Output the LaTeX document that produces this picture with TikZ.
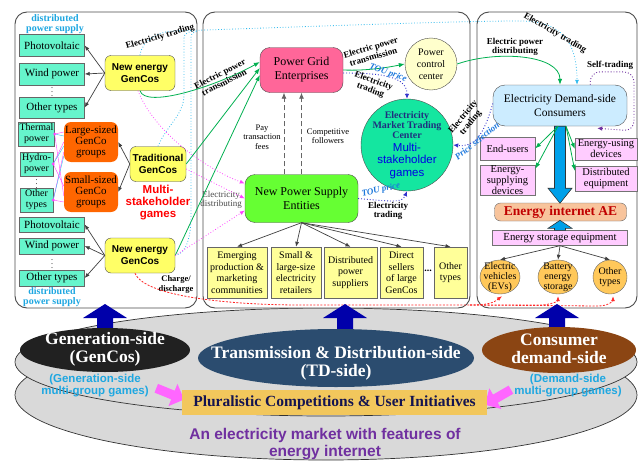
\documentclass[tikz,border=0pt]{standalone}
\usepackage{fontspec}
\setmainfont{Liberation Serif}
\newfontfamily\arialf{Liberation Sans}
\usetikzlibrary{arrows.meta,calc,shapes.geometric,shapes.arrows}

\definecolor{mintc}{RGB}{102,245,204}
\definecolor{genyel}{RGB}{255,255,102}
\definecolor{orgc}{RGB}{255,102,0}
\definecolor{gridpink}{RGB}{255,102,153}
\definecolor{npsgreen}{RGB}{102,255,51}
\definecolor{boxyel}{RGB}{255,255,153}
\definecolor{mktgreen}{RGB}{20,230,160}
\definecolor{pccyel}{RGB}{255,255,204}
\definecolor{consblue}{RGB}{204,236,255}
\definecolor{lilac}{RGB}{255,204,255}
\definecolor{aesalmon}{RGB}{248,196,156}
\definecolor{aered}{RGB}{192,0,0}
\definecolor{ovalorg}{RGB}{255,200,90}
\definecolor{flowgreen}{RGB}{0,176,80}
\definecolor{tradecyan}{RGB}{51,187,238}
\definecolor{distmag}{RGB}{255,68,255}
\definecolor{toublue}{RGB}{51,51,204}
\definecolor{pricecyan}{RGB}{30,120,220}
\definecolor{selfpurple}{RGB}{112,48,160}
\definecolor{chargered}{RGB}{255,40,40}
\definecolor{fatblue}{RGB}{0,160,233}
\definecolor{navyup}{RGB}{0,0,170}
\definecolor{diskgray}{RGB}{217,217,217}
\definecolor{tdblue}{RGB}{43,76,111}
\definecolor{brownc}{RGB}{139,69,19}
\definecolor{goldc}{RGB}{242,199,92}
\definecolor{gamecyan}{RGB}{30,167,225}
\definecolor{mktnavy}{RGB}{31,47,127}
\definecolor{pcitext}{RGB}{20,20,80}
\definecolor{pinkc}{RGB}{255,102,255}

\begin{document}
\begin{tikzpicture}[x=1pt,y=-1pt,
  panel/.style={draw=black!70,line width=0.9pt,rounded corners=12pt,fill=white},
  disk/.style={draw=black!80,line width=0.7pt,fill=diskgray},
  srcbox/.style={draw=black!60,fill=mintc,inner sep=1pt,align=center,font=\fontsize{11}{12}\selectfont},
  unitbox/.style={srcbox,minimum width=33,minimum height=24,font=\fontsize{10}{11}\selectfont},
  genco/.style={draw=black!70,fill=genyel,rounded corners=6pt,align=center,minimum width=70,minimum height=35,inner sep=1pt,font=\arialf\bfseries\fontsize{10}{12}\selectfont},
  group/.style={fill=orgc,rounded corners=7pt,align=center,minimum width=54,minimum height=40,inner sep=1pt,font=\fontsize{11}{11}\selectfont},
  seller/.style={draw=black!60,fill=boxyel,align=center,minimum height=51,inner sep=1pt,font=\fontsize{10}{11.5}\selectfont},
  demandbox/.style={draw=black!55,fill=lilac,align=center,inner sep=0pt,font=\fontsize{10.5}{11}\selectfont},
  storeoval/.style={ellipse,draw=black!60,fill=ovalorg,align=center,inner sep=-5pt,minimum height=34,font=\fontsize{10}{10}\selectfont},
  vdot/.style={inner sep=0pt,font=\fontsize{8}{8}\selectfont},
  lab/.style={align=center,inner sep=0pt,font=\bfseries\fontsize{9}{9.5}\selectfont},
  tou/.style={inner sep=0pt,text=pricecyan,font=\bfseries\itshape\fontsize{9}{10}\selectfont},
  note/.style={align=center,inner sep=0pt,font=\fontsize{8.5}{9.5}\selectfont},
  dps/.style={align=center,inner sep=0pt,text=gamecyan,font=\bfseries\fontsize{10}{10}\selectfont},
  tree/.style={draw=black!75,line width=0.7pt,-{Latex[length=5pt,width=4pt]}},
  flow/.style={draw=flowgreen,line width=0.8pt,-{Latex[length=6pt,width=4.5pt]}},
  trade/.style={draw=tradecyan,line width=0.8pt,dotted},
  distr/.style={draw=distmag,line width=0.8pt,dotted,-{Latex[length=5pt,width=4pt]}},
  tousig/.style={draw=toublue,line width=0.9pt,dotted,-{Latex[length=5pt,width=4.5pt]}},
  charge/.style={draw=chargered,line width=0.8pt,dash pattern=on 2pt off 1.5pt},
  follow/.style={draw=black!60,line width=0.8pt,dash pattern=on 5pt off 3pt,-{Latex[length=6pt,width=5pt]}},
  fatarrow/.style={draw=black!80,line width=0.6pt,fill=fatblue},
  sidetext/.style={align=center,inner sep=0pt,text=white,font=\bfseries\fontsize{17.5}{18}\selectfont},
  games/.style={align=center,inner sep=0pt,text=gamecyan,font=\arialf\bfseries\fontsize{11.5}{12}\selectfont},
  pinkarrow/.style={single arrow,fill=pinkc,minimum height=30,minimum width=24,inner sep=3pt,single arrow head extend=5pt}
]
  \useasboundingbox (0,0) rectangle (640,463);

  % platform under the three sides
  \draw[disk] (326,395) ellipse (311 and 65);
  \draw[disk] (326,362) ellipse (311 and 54);

  % three panels
  \draw[panel] (15,12) rectangle (197,308);
  \draw[panel] (203,12) rectangle (470,308);
  \draw[panel] (477,12) rectangle (637,308);

  % generation side
  \node[dps] (dpsTop) at (55,24) {distributed\\power supply};
  \node[srcbox,minimum width=65,minimum height=22] (pvA) at (52,45.5) {Photovoltaic};
  \node[srcbox,minimum width=65,minimum height=22] (windA) at (52,74) {Wind power};
  \node[vdot] (dotsA) at (52,89) {$\vdots$};
  \node[srcbox,minimum width=65,minimum height=21] (otherA) at (52,107.5) {Other types};
  \node[genco] (newA) at (140,73) {New energy\\GenCos};

  \node[unitbox] (thermal) at (36.5,134) {Thermal\\power};
  \node[unitbox] (hydro) at (36.5,164) {Hydro-\\power};
  \node[vdot] (dotsB) at (36.5,181) {$\vdots$};
  \node[unitbox] (otherB) at (36.5,200) {Other\\types};
  \node[group] (large) at (91,142) {Large-sized\\GenCo\\groups};
  \node[group] (small) at (91,192) {Small-sized\\GenCo\\groups};
  \node[genco,minimum width=56] (trad) at (158,164) {Traditional\\GenCos};
  \node[align=center,inner sep=0pt,text=red,font=\arialf\bfseries\fontsize{11.5}{12}\selectfont] (msgL) at (158,203) {Multi-\\stakeholder\\games};

  \node[srcbox,minimum width=65,minimum height=15] (pvB) at (52,224.5) {Photovoltaic};
  \node[srcbox,minimum width=65,minimum height=16] (windB) at (52,246) {Wind power};
  \node[vdot] (dotsC) at (52,261) {$\vdots$};
  \node[srcbox,minimum width=65,minimum height=16] (otherC) at (52,278) {Other types};
  \node[genco] (newB) at (140,255.5) {New energy\\GenCos};
  \node[dps] (dpsBot) at (52,297.5) {distributed\\power supply};
  \node[lab,font=\bfseries\fontsize{8.5}{10}\selectfont] (chg) at (176,284) {Charge/\\discharge};

  \foreach \t in {pvA,windA,otherA} \draw[tree] (newA.west) -- (\t.east);
  \foreach \t in {large,small} \draw[tree] (trad.west) -- (\t.east);
  \foreach \t in {pvB,windB,otherC} \draw[tree] (newB.west) -- (\t.east);
  \foreach \s/\a/\b in {thermal/-10/4,hydro/0/-6,otherB/10/10} {
    \draw[distmag,line width=0.4pt] (\s.east) -- ($(large.west)+(0,\a)$);
    \draw[distmag,line width=0.4pt] (\s.east) -- ($(small.west)+(0,\b)$);
    \draw[tradecyan,line width=0.4pt] (\s.east) -- ($(large.west)+(0,\a+4)$);
    \fill[distmag] (\s.east) circle (1.6);
  }

  % transmission and distribution side
  \node[draw=black!70,fill=gridpink,rounded corners=10pt,minimum width=83,minimum height=45,align=center,inner sep=1pt,font=\fontsize{12}{14}\selectfont] (grid) at (301.5,70) {Power Grid\\Enterprises};
  \node[circle,draw=black!70,fill=pccyel,minimum size=52,inner sep=0pt,align=center,font=\fontsize{10}{12}\selectfont] (pcc) at (431,64) {Power\\control\\center};
  \node[circle,draw=black!70,fill=mktgreen,minimum size=92,inner sep=0pt] (mkt) at (407,145) {};
  \node[align=center,inner sep=0pt,text=mktnavy,font=\bfseries\fontsize{10}{10}\selectfont] (mktName) at (407,125) {Electricity\\Market Trading\\Center};
  \node[align=center,inner sep=0pt,text=blue!90!black,font=\arialf\fontsize{11.5}{12.5}\selectfont] (mktGame) at (407,161) {Multi-\\stakeholder\\games};
  \node[draw=black!70,fill=npsgreen,rounded corners=10pt,minimum width=113,minimum height=48,align=center,inner sep=1pt,font=\fontsize{12}{14}\selectfont] (nps) at (301.5,198.5) {New Power Supply\\Entities};

  \node[seller,minimum width=60] (sellA) at (237,272.5) {Emerging\\production \&\\marketing\\communities};
  \node[seller,minimum width=50] (sellB) at (296,272.5) {Small \&\\large-size\\electricity\\retailers};
  \node[seller,minimum width=53] (sellC) at (350.5,272.5) {Distributed\\power\\suppliers};
  \node[seller,minimum width=43] (sellD) at (401.5,272.5) {Direct\\sellers\\of large\\GenCos};
  \node[inner sep=0pt,font=\bfseries\fontsize{10}{10}\selectfont] (sellDots) at (428,271) {...};
  \node[seller,minimum width=33] (sellE) at (450.5,272.5) {Other\\types};
  \foreach \t in {sellA,sellB,sellC,sellD,sellE} \draw[tree] (nps.south) -- (\t.north);

  \draw[follow] ($(nps.north)+(-17.5,0)$) -- ($(grid.south)+(-17.5,0)$);
  \draw[follow] (nps.north) -- (grid.south);
  \node[note] (payfee) at (262,137) {Pay\\transaction\\fees};
  \node[note] (compfol) at (328,136) {Competitive\\followers};
  \node[note,text=black!70,font=\fontsize{9}{9.5}\selectfont] (elecdist) at (221,200) {Electricity\\distributing};

  % demand side
  \node[draw=black!70,fill=consblue,rounded corners=12pt,minimum width=134,minimum height=41,align=center,inner sep=1pt,font=\fontsize{11.5}{14}\selectfont] (cons) at (560,105.5) {Electricity Demand-side\\Consumers};
  \node[demandbox,minimum width=55,minimum height=23] (endu) at (507.5,148.5) {End-users};
  \node[demandbox,minimum width=55,minimum height=30] (esup) at (507.5,180) {Energy-\\supplying\\devices};
  \node[demandbox,minimum width=62,minimum height=22] (euse) at (606,149) {Energy-using\\devices};
  \node[demandbox,minimum width=62,minimum height=25] (deq) at (606,178.5) {Distributed\\equipment};
  \node[draw=black!60,fill=aesalmon,rounded corners=6pt,minimum width=132,minimum height=18,inner sep=0pt,text=aered,font=\bfseries\fontsize{13.5}{14}\selectfont] (ae) at (560.5,212) {Energy internet AE};
  \node[demandbox,minimum width=135,minimum height=15,font=\fontsize{10.8}{11}\selectfont] (store) at (560,238) {Energy storage equipment};
  \node[storeoval,minimum width=40] (ev) at (500,277) {Electric\\vehicles\\(EVs)};
  \node[storeoval,minimum width=40] (batt) at (558,277) {Battery\\energy\\storage};
  \node[storeoval,minimum width=34] (otherD) at (610,277) {Other\\types};

  \draw[fatarrow] ($(cons.south)+(-5.5,0)$) -- ++(11,0) -- ++(0,62) -- ++(6.5,0) -- ++(-12,15) -- ++(-12,-15) -- ++(6.5,0) -- cycle;
  \draw[fatarrow] ($(store.north)+(-5.5,0)$) -- ++(0,-2) -- ++(-6.5,0) -- ++(12,-8) -- ++(12,8) -- ++(-6.5,0) -- ++(0,2) -- cycle;
  \draw[flow] ($(cons.south)+(-2,0)$) -- (endu.east);
  \draw[flow] ($(cons.south)+(-2,0)$) -- ($(esup.north east)+(0,4)$);
  \draw[flow] ($(cons.south)+(6,0)$) -- (euse.west);
  \draw[flow] ($(cons.south)+(6,0)$) -- ($(deq.north west)+(0,5)$);
  \foreach \t in {ev,batt,otherD} \draw[tree] (store.south) -- (\t.north);

  % power flows
  \draw[flow] (newA.south) .. controls +(5,18) and +(-45,25) .. ($(grid.west)+(0,-8)$);
  \draw[flow] (trad.east) -- ($(grid.west)+(0,-2)$);
  \draw[flow] (newB.east) -- ($(grid.west)+(0,5)$);
  \draw[flow] (grid.east) .. controls +(25,1) and +(-15,3) .. (pcc.west);
  \draw[flow] (pcc.east) .. controls +(40,-14) and +(0,-30) .. (cons.north);
  \node[lab,rotate=27] (ptA) at (222,78) {Electric power\\transmission};
  \node[lab,rotate=16] (ptB) at (372,52) {Electric power\\transmission};
  \node[lab] (pdist) at (515,47) {Electric power\\distributing};

  % electricity trading
  \draw[trade,-{Latex[length=5pt,width=4pt]}] (newA.north) .. controls +(2,-16) and +(-15,0) .. (175,31) .. controls (300,27) and (450,21) .. (520,21) .. controls (560,21) and (577,40) .. ($(cons.north)+(17,0)$);
  \draw[trade] (trad.north) .. controls +(8,-20) and +(0,20) .. (184,95) -- (184,42) .. controls (184,34) .. (192,31);
  \draw[trade] (newB.east) .. controls +(12,-2) and +(0,20) .. (191,215) -- (191,42) .. controls (191,33) .. (198,31);
  \node[lab,rotate=16] (tradeA) at (160,37) {Electricity trading};
  \node[lab,rotate=-30] (tradeB) at (555,33) {Electricity trading};

  % electricity distributing
  \draw[distr] ($(newA.south)+(-2,0)$) .. controls +(15,40) and +(-40,-15) .. ($(nps.west)+(0,-15)$);
  \draw[distr] ($(trad.east)+(0,5)$) -- (nps.west);
  \draw[distr] (newB.east) -- ($(nps.west)+(0,12)$);

  % TOU price signals
  \draw[tousig] ($(grid.east)+(0,3)$) .. controls +(40,0) and +(0,-22) .. (mkt.north);
  \draw[tousig] (nps.east) .. controls +(35,3) and +(-5,12) .. (mkt.south);
  \draw[tousig] ($(cons.west)+(0,-2)$) .. controls +(-10,35) and +(20,2) .. (mkt.east);
  \node[tou,rotate=-20] (touA) at (388,73) {TOU price};
  \node[lab,rotate=-20] (tradeC) at (372,86) {Electricity\\trading};
  \node[tou,rotate=12] (touB) at (381,190) {TOU price};
  \node[lab] (tradeD) at (388,211) {Electricity\\trading};
  \node[lab,rotate=50] (tradeE) at (467,120) {Electricity\\trading};
  \node[tou,rotate=39] (pricesel) at (477,141) {Price selection};

  % self-trading loop
  \draw[draw=selfpurple,line width=0.9pt,dotted,rounded corners=10pt,-{Latex[length=5pt,width=4.5pt]}] ($(cons.north east)+(-37,0)$) -- ++(0,-13) -- (634,72) -- (634,131) -- ($(cons.south east)+(-30,2)$);
  \node[lab] (selft) at (610,65) {Self-trading};

  % charge / discharge
  \coordinate (chgjoin) at (470,305);
  \draw[charge] ($(newB.south)+(-5,0)$) .. controls +(10,25) and +(-60,0) .. (300,305) -- (chgjoin);
  \draw[charge,-{Latex[length=5pt,width=4pt]}] (chgjoin) .. controls +(20,0) and +(-8,6) .. ($(ev.south)+(2,2)$);
  \draw[charge,-{Latex[length=5pt,width=4pt]}] (chgjoin) -- (540,305) .. controls +(10,0) and +(0,5) .. ($(batt.south)+(0,2)$);
  \draw[charge,-{Latex[length=5pt,width=4pt]}] (chgjoin) -- (598,306) .. controls +(10,0) and +(0,5) .. ($(otherD.south)+(3,2)$);

  % bottom: sides of the market
  \foreach \ax/\ay in {105/332,345/334,557/330}
    \fill[navyup] (\ax-8,\ay) -- (\ax-8,318) -- (\ax-22,318) -- (\ax,304) -- (\ax+22,318) -- (\ax+8,318) -- (\ax+8,\ay) -- cycle;
  \fill[black!87] (105,350) ellipse (85 and 22);
  \node[sidetext] (genT) at (105,349) {Generation-side\\(GenCos)};
  \fill[tdblue] (336,358) ellipse (138 and 29);
  \node[sidetext] (tdT) at (336,363) {Transmission \& Distribution-side\\(TD-side)};
  \fill[brownc] (559,350) ellipse (77 and 23);
  \node[sidetext] (consT) at (559,349) {Consumer\\demand-side};

  \node[games] (gameL) at (95,386) {(Generation-side\\multi-group games)};
  \node[games] (gameR) at (568,386) {(Demand-side\\multi-group games)};
  \node[pinkarrow,rotate=-22] (pinkL) at (168,393) {};
  \node[pinkarrow,rotate=210] (pinkR) at (500,396) {};
  \node[fill=goldc,minimum width=305,minimum height=25,inner sep=0pt,text=pcitext,font=\bfseries\fontsize{15.5}{16}\selectfont] (pci) at (334.5,402.5) {Pluralistic Competitions \& User Initiatives};
  \node[align=center,inner sep=0pt,text=selfpurple,font=\arialf\bfseries\fontsize{15.5}{17.5}\selectfont] (mktT) at (325,444) {An electricity market with features of\\energy internet};
\end{tikzpicture}
\end{document}
